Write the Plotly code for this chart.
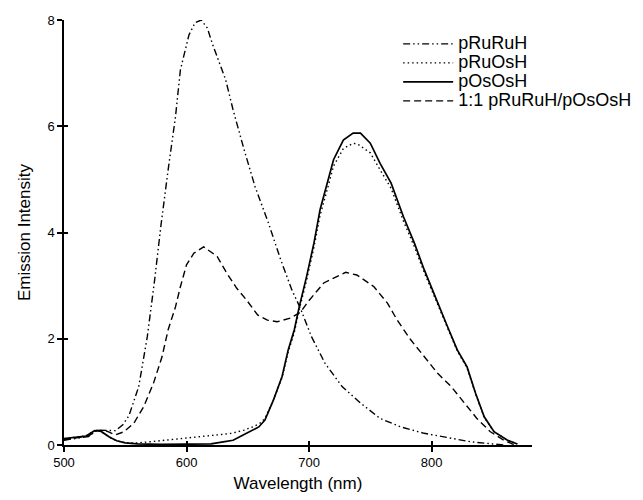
import plotly.graph_objects as go

# ---- data ----
ruru_wl = [500, 510, 520, 527, 535, 542, 548, 553, 561, 568, 574, 579, 585, 591, 595, 602, 607, 612,
           617, 621, 632, 638, 647, 656, 667, 677, 686, 693, 702, 713, 727, 742, 758, 775, 794, 815,
           832, 850, 860]
ruru_i = [0.09, 0.12, 0.16, 0.28, 0.27, 0.27, 0.38, 0.55, 1.10, 2.04, 3.11, 4.11, 5.18, 6.18, 7.06,
          7.72, 7.95, 8.0, 7.85, 7.56, 6.87, 6.31, 5.56, 4.86, 4.17, 3.48, 2.92, 2.57, 2.04, 1.54,
          1.10, 0.79, 0.50, 0.34, 0.22, 0.13, 0.06, 0.02, 0.0]

ruos_wl = [500, 510, 518, 525, 530, 537, 543, 550, 560, 570, 585, 598, 612, 625, 637, 647, 655, 660,
           664, 671, 678, 683, 688, 692, 698, 704, 709, 715, 720, 728, 736, 740, 750, 758, 767, 777,
           786, 794, 805, 813, 821, 829, 836, 843, 851, 862, 870]
ruos_i = [0.12, 0.14, 0.17, 0.27, 0.26, 0.15, 0.08, 0.04, 0.04, 0.06, 0.10, 0.13, 0.16, 0.19, 0.22,
          0.28, 0.35, 0.41, 0.50, 0.85, 1.27, 1.75, 2.12, 2.55, 3.10, 3.72, 4.32, 4.82, 5.25, 5.58,
          5.68, 5.66, 5.50, 5.18, 4.83, 4.22, 3.73, 3.25, 2.64, 2.20, 1.77, 1.45, 0.96, 0.52, 0.25,
          0.09, 0.02]

osos_wl = [500, 510, 518, 525, 530, 537, 543, 550, 560, 580, 600, 620, 630, 638, 649, 659, 664, 671,
           678, 683, 688, 692, 698, 704, 709, 715, 720, 728, 736, 742, 750, 758, 767, 777, 786, 794,
           805, 813, 821, 829, 836, 843, 851, 862, 870]
osos_i = [0.12, 0.14, 0.17, 0.27, 0.26, 0.15, 0.08, 0.04, 0.02, 0.01, 0.01, 0.02, 0.06, 0.09, 0.22,
          0.34, 0.47, 0.85, 1.29, 1.79, 2.17, 2.60, 3.17, 3.80, 4.43, 4.93, 5.37, 5.74, 5.87, 5.87,
          5.68, 5.30, 4.93, 4.30, 3.80, 3.30, 2.70, 2.23, 1.79, 1.47, 0.97, 0.53, 0.25, 0.09, 0.02]

mix_wl = [500, 510, 520, 527, 535, 542, 549, 557, 565, 573, 580, 585, 591, 595, 600, 606, 614, 625,
          633, 641, 649, 658, 666, 674, 685, 693, 700, 712, 730, 739, 753, 764, 772, 783, 794, 805,
          816, 827, 837, 848, 859, 868]
mix_i = [0.10, 0.13, 0.17, 0.28, 0.26, 0.19, 0.25, 0.41, 0.72, 1.16, 1.66, 2.17, 2.60, 2.98, 3.39,
         3.61, 3.73, 3.55, 3.23, 2.95, 2.73, 2.45, 2.35, 2.32, 2.39, 2.50, 2.72, 3.05, 3.25, 3.20,
         2.98, 2.67, 2.35, 1.98, 1.66, 1.35, 1.10, 0.79, 0.50, 0.25, 0.09, 0.0]

names = ["pRuRuH", "pRuOsH", "pOsOsH", "1:1 pRuRuH/pOsOsH"]
x_ticks = [500, 600, 700, 800]
y_ticks = [0, 2, 4, 6, 8]

FONT = "Liberation Sans, Arial, sans-serif"


def legend_label(s):
    # larger glyphs while keeping the compact legend row spacing of the original
    return '<span style="font-size:18px">' + s + '</span>'


fig = go.Figure()
fig.add_trace(go.Scatter(x=ruru_wl, y=ruru_i, mode="lines", name=legend_label(names[0]),
                         line=dict(color="black", width=1.4, dash="7px,3px,1.5px,3px,1.5px,3px")))
fig.add_trace(go.Scatter(x=ruos_wl, y=ruos_i, mode="lines", name=legend_label(names[1]),
                         line=dict(color="black", width=1.4, dash="1.5px,3px")))
fig.add_trace(go.Scatter(x=osos_wl, y=osos_i, mode="lines", name=legend_label(names[2]),
                         line=dict(color="black", width=1.7)))
fig.add_trace(go.Scatter(x=mix_wl, y=mix_i, mode="lines", name=legend_label(names[3]),
                         line=dict(color="black", width=1.4, dash="7px,4px")))
# carrier for the overlaid axes that draw the inner half of the crossing ticks
fig.add_trace(go.Scatter(x=[], y=[], xaxis="x2", yaxis="y2", showlegend=False, hoverinfo="skip"))

fig.update_layout(
    width=643, height=500,
    margin=dict(l=64, r=111, t=20, b=55, autoexpand=False),
    paper_bgcolor="white", plot_bgcolor="white",
    font=dict(family=FONT, color="black", size=12),
    showlegend=True,
    legend=dict(x=0.714, y=0.978, xanchor="left", yanchor="top",
                bgcolor="rgba(0,0,0,0)", font=dict(size=12, family=FONT, color="black"),
                itemwidth=50, tracegroupgap=0),
    xaxis=dict(range=[500, 882], tickvals=x_ticks, ticks="outside", ticklen=5, tickwidth=1.5,
               tickcolor="black", showline=True, linecolor="black", linewidth=1.5,
               showgrid=False, zeroline=False, tickfont=dict(size=13, family=FONT, color="black"),
               title=dict(text="Wavelength (nm)", font=dict(size=17, family=FONT, color="black"),
                          standoff=8)),
    yaxis=dict(range=[0, 8], tickvals=y_ticks, ticks="outside", ticklen=5, tickwidth=1.5,
               tickcolor="black", showline=True, linecolor="black", linewidth=1.5,
               showgrid=False, zeroline=False, tickfont=dict(size=13, family=FONT, color="black"),
               title=dict(text="Emission Intensity", font=dict(size=17, family=FONT, color="black"),
                          standoff=12)),
    xaxis2=dict(overlaying="x", matches="x", anchor="y2", range=[500, 882], tickvals=x_ticks,
                ticks="inside", ticklen=4, tickwidth=1.5, tickcolor="black", showticklabels=False,
                showline=False, showgrid=False, zeroline=False),
    yaxis2=dict(overlaying="y", matches="y", anchor="x2", range=[0, 8], tickvals=y_ticks,
                ticks="inside", ticklen=4, tickwidth=1.5, tickcolor="black", showticklabels=False,
                showline=False, showgrid=False, zeroline=False),
)

fig.write_html("out.html")
